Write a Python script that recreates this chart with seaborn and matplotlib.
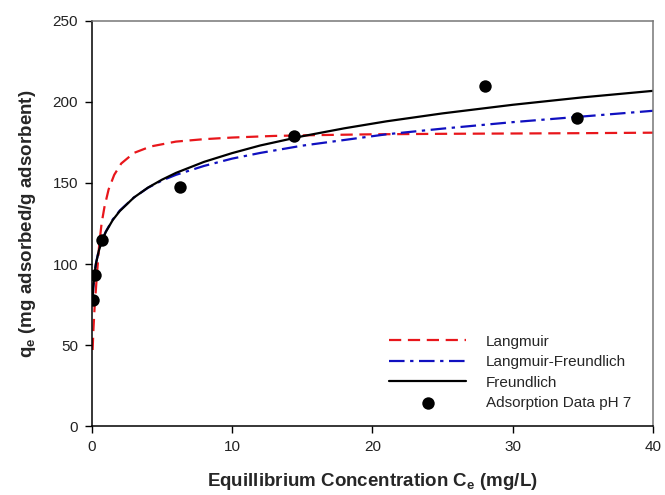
import matplotlib
matplotlib.use("Agg")
import matplotlib.pyplot as plt
import seaborn as sns
import pandas as pd

# adsorption data, pH 7
ce_data = [0.09, 0.21, 0.76, 6.27, 14.4, 28.0, 34.6]
qe_data = [78, 93, 115, 147.5, 179, 210, 190]

# model curves
ce_lang = [0.06, 0.12, 0.2, 0.34, 0.53, 0.7, 0.9, 1.2, 1.6, 2.1, 3.0, 4.2,
           6, 8, 10, 13, 16, 20, 25, 30, 35, 40]
qe_lang = [47, 60, 73, 90, 112, 125, 135, 146, 155, 162, 168.5, 172.5,
           175.5, 177, 178, 179, 179.5, 180, 180.3, 180.5, 180.7, 181]

ce_fit = [0.06, 0.1, 0.2, 0.3, 0.5, 0.75, 1, 1.5, 2, 3, 4, 5, 6, 8, 10,
          12, 15, 18, 21, 25, 30, 35, 40]
qe_freund = [79, 85.2, 94.4, 100.3, 108.1, 114.8, 119.8, 127.2, 132.7, 141,
             147.1, 152, 156.2, 163, 168.4, 173.1, 178.8, 183.7, 188, 192.9,
             198.2, 202.8, 206.8]
qe_lf = [79, 85, 94.5, 100.5, 108.5, 115, 120, 127.5, 133, 141, 147, 151.5,
         155, 160.5, 165, 168.5, 173, 176.5, 180, 183.5, 187.5, 191, 194.5]

sns.set_style("white")
plt.rcParams['font.family'] = ['Liberation Sans', 'DejaVu Sans']

fig = plt.figure(figsize=(6.65, 4.95), dpi=100)
ax = fig.add_axes([0.138, 0.139, 0.844, 0.819])

sns.lineplot(x=ce_lang, y=qe_lang, ax=ax, color='#e8161b', linewidth=1.6,
             label='Langmuir', estimator=None, sort=False)
ax.lines[-1].set_dashes([5.5, 3])
sns.lineplot(x=ce_fit, y=qe_lf, ax=ax, color='#1010c0', linewidth=1.6,
             label='Langmuir-Freundlich', estimator=None, sort=False)
ax.lines[-1].set_dashes([7, 2.5, 1.5, 2.5])
sns.lineplot(x=ce_fit, y=qe_freund, ax=ax, color='black', linewidth=1.6,
             label='Freundlich', estimator=None, sort=False)
sns.scatterplot(x=ce_data, y=qe_data, ax=ax, color='black', s=80,
                edgecolor='black', linewidth=0, label='Adsorption Data pH 7',
                zorder=5)

ax.set_xlim(0, 40)
ax.set_ylim(0, 250)
ax.set_xticks([0, 10, 20, 30, 40])
ax.set_yticks([0, 50, 100, 150, 200, 250])
ax.tick_params(axis='both', direction='out', length=5, width=1, colors='black',
               labelsize=11, bottom=True, left=True, pad=5)
for lbl in ax.get_xticklabels() + ax.get_yticklabels():
    lbl.set_color('#222222')

for side in ['left', 'bottom']:
    ax.spines[side].set_color('black')
    ax.spines[side].set_linewidth(1.1)
for side in ['top', 'right']:
    ax.spines[side].set_color('#777777')
    ax.spines[side].set_linewidth(1.1)

ax.set_xlabel('Equillibrium Concentration C$_\\mathregular{e}$ (mg/L)',
              fontsize=13.5, fontweight='bold', labelpad=12)
ax.set_ylabel('q$_\\mathregular{e}$ (mg adsorbed/g adsorbent)',
              fontsize=13.5, fontweight='bold', labelpad=10)

handles, labels = ax.get_legend_handles_labels()
ax.legend(handles, labels, loc='lower right', bbox_to_anchor=(0.985, 0.006),
          frameon=False, fontsize=11, handlelength=5.0, labelspacing=0.42,
          handletextpad=1.3)

plt.savefig('out.png', dpi=100)
plt.close()
